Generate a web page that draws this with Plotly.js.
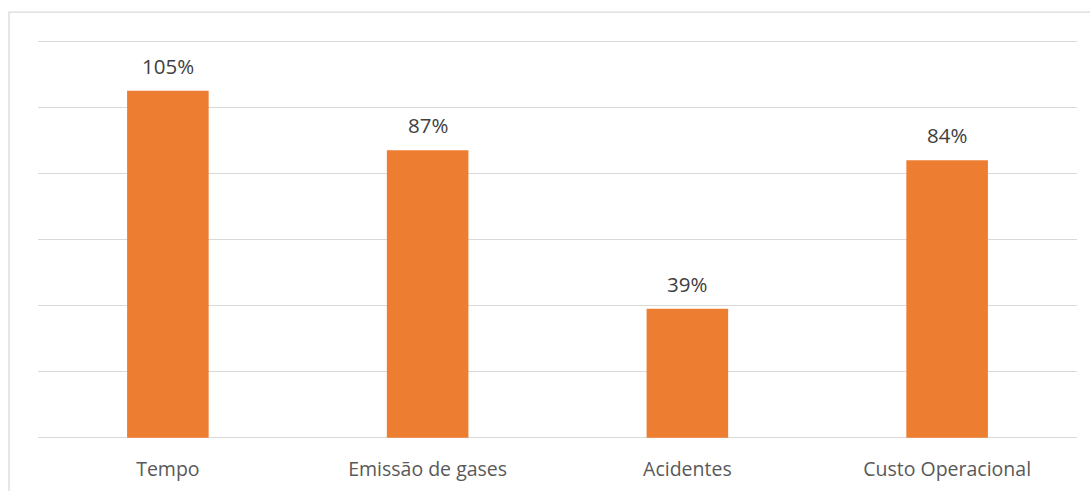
<!DOCTYPE html>
<html>
<head>
<meta charset="utf-8">
<script src="https://cdn.plot.ly/plotly-3.0.1.min.js"></script>
<style>html,body{margin:0;padding:0;background:#fff;}#chart{width:1090px;height:491px;}</style>
</head>
<body>
<div id="chart"></div>
<script>
const categories = ["Tempo", "Emissão de gases", "Acidentes", "Custo Operacional"];
const values = [105, 87, 39, 84];
const valueLabels = ["105%", "87%", "39%", "84%"];

const trace = {
  type: "bar",
  x: categories,
  y: values,
  marker: {color: "#ED7D31"},
  width: 0.314,
  hoverinfo: "skip"
};

const annotations = categories.map((c, i) => ({
  x: c, y: values[i], xref: "x", yref: "y",
  text: valueLabels[i], showarrow: false,
  yanchor: "middle", yshift: 25,
  font: {family: "Open Sans, sans-serif", size: 20.5, color: "#404040"}
}));

const layout = {
  width: 1090, height: 491,
  margin: {l: 38, r: 13, t: 37.7, b: 50.2},
  paper_bgcolor: "#ffffff", plot_bgcolor: "#ffffff",
  showlegend: false,
  bargap: 0.686,
  xaxis: {
    type: "category",
    showgrid: false, zeroline: false, showline: false,
    ticks: "outside", ticklen: 11, tickcolor: "rgba(0,0,0,0)",
    tickfont: {family: "Open Sans, sans-serif", size: 19.5, color: "#595959"}
  },
  yaxis: {
    range: [-1, 121], dtick: 20, tick0: 0,
    showticklabels: false, showgrid: true, gridcolor: "#d9d9d9", gridwidth: 1.3,
    zeroline: false, showline: false, ticks: ""
  },
  annotations: annotations,
  shapes: [{
    type: "rect", xref: "paper", yref: "paper",
    x0: -0.0279, x1: 1.2, y0: -0.3, y1: 1.064,
    line: {color: "#d9d9d9", width: 1.3}, fillcolor: "rgba(0,0,0,0)", layer: "below"
  }]
};

Plotly.newPlot("chart", [trace], layout, {staticPlot: true, displayModeBar: false});
</script>
</body>
</html>
